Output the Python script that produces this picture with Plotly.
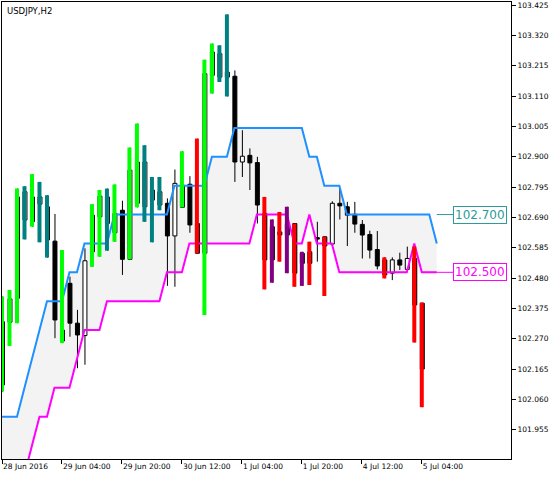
import plotly.graph_objects as go

# ---------------- data ----------------
title_text = "USDJPY,H2"

# H2 bars, index 0 = 28 Jun 2016 12:00
opens = [102.110, 102.327, 102.410, 102.681, 102.675, 102.736, 102.612, 102.608, 102.262, 102.462,
         102.324, 102.281, 102.571, 102.692, 102.669, 102.637, 102.715, 102.545, 102.739, 102.727,
         102.750, 102.733, 102.739, 102.626, 102.725, 102.805, 102.669, 102.566, 103.182, 103.176,
         103.176, 103.179, 102.882, 102.905, 102.880, 102.704, 102.658, 102.640, 102.669, 102.669,
         102.566, 102.571, 102.620, 102.623, 102.598, 102.739, 102.727, 102.701, 102.666, 102.631,
         102.579, 102.543, 102.497, 102.543, 102.510, 102.548, 102.393]
highs = [102.416, 102.439, 102.790, 102.798, 102.840, 102.813, 102.767, 102.702, 102.577, 102.485,
         102.370, 102.583, 102.736, 102.785, 102.790, 102.804, 102.748, 102.932, 103.015, 102.940,
         102.830, 102.830, 102.756, 102.856, 102.919, 102.833, 102.963, 103.236, 103.292, 103.286,
         103.393, 103.199, 102.992, 102.929, 102.900, 102.761, 102.683, 102.709, 102.727, 102.669,
         102.571, 102.606, 102.675, 102.623, 102.746, 102.790, 102.744, 102.744, 102.681, 102.644,
         102.643, 102.552, 102.552, 102.568, 102.589, 102.589, 102.395]
lows = [102.087, 102.245, 102.324, 102.614, 102.658, 102.604, 102.551, 102.272, 102.255, 102.277,
        102.168, 102.180, 102.519, 102.554, 102.575, 102.606, 102.491, 102.545, 102.725, 102.675,
        102.604, 102.715, 102.453, 102.450, 102.725, 102.637, 102.566, 102.352, 103.119, 103.159,
        103.109, 102.813, 102.830, 102.785, 102.669, 102.441, 102.464, 102.537, 102.497, 102.450,
        102.453, 102.456, 102.537, 102.418, 102.589, 102.683, 102.591, 102.637, 102.548, 102.548,
        102.510, 102.479, 102.473, 102.508, 102.508, 102.257, 102.033]
closes = [102.329, 102.408, 102.761, 102.779, 102.761, 102.761, 102.727, 102.335, 102.300, 102.324,
          102.283, 102.540, 102.698, 102.764, 102.761, 102.704, 102.545, 102.854, 102.882, 102.882,
          102.785, 102.779, 102.626, 102.808, 102.802, 102.664, 102.566, 103.188, 103.263, 103.257,
          103.193, 102.882, 102.902, 102.879, 102.733, 102.543, 102.543, 102.629, 102.629, 102.497,
          102.531, 102.531, 102.615, 102.591, 102.739, 102.730, 102.698, 102.667, 102.629, 102.577,
          102.522, 102.491, 102.543, 102.525, 102.548, 102.387, 102.165]
# colour class of the indicator bar drawn over each candle ("" = plain candle)
bar_colors = ["lime", "lime", "lime", "teal", "lime", "teal", "teal", "", "lime", "",
              "", "", "lime", "lime", "teal", "lime", "", "lime", "lime", "teal",
              "teal", "teal", "", "", "lime", "", "red", "lime", "lime", "teal",
              "teal", "", "", "", "", "red", "purple", "red", "purple", "red",
              "purple", "red", "", "red", "", "", "", "", "", "",
              "", "red", "", "", "", "red", "red"]

# channel lines (extend 2 bars beyond the last candle)
upper_band = ([102.00] * 3 + [102.10, 102.20, 102.30] + [102.40] * 3 + [102.50] * 2 +
              [102.60] * 4 + [102.70] * 8 + [102.80] * 5 + [102.90] * 3 + [103.00] * 10 +
              [102.90] * 2 + [102.80] * 3 + [102.70] * 12 + [102.60])
lower_band = ([101.80] * 4 + [101.90] + [102.00] * 2 + [102.10] * 3 + [102.20] + [102.30] * 3 +
              [102.40] * 8 + [102.50] * 3 + [102.60] * 9 + [102.70] * 5 + [102.60] * 2 +
              [102.70] + [102.60] * 3 + [102.50] * 10 + [102.60] + [102.50] * 3)

x_tick_pos = [0, 8, 16, 24, 32, 40, 48, 56]
x_tick_labels = ["28 Jun 2016", "29 Jun 04:00", "29 Jun 20:00", "30 Jun 12:00",
                 "1 Jul 04:00", "1 Jul 20:00", "4 Jul 12:00", "5 Jul 04:00"]
y_tick_labels = ["101.955", "102.060", "102.165", "102.270", "102.375", "102.480", "102.585",
                 "102.690", "102.795", "102.900", "103.005", "103.110", "103.215", "103.320",
                 "103.425"]
label_prices = [102.700, 102.500]
label_texts = ["102.700", "102.500"]

# ---------------- styles ----------------
COLORS = {"lime": "#00FF00", "teal": "#008080", "red": "#FF0000", "purple": "#800080"}
UPPER_COLOR = "#1E90FF"
LOWER_COLOR = "#FF00FF"
FILL_COLOR = "#F3F3F3"
LABEL_COLORS = ["#2E9A9A", "#FF00FF"]
FONT = "DejaVu Sans"
BODY_L, BODY_R, WICK_DX = -0.2, 0.33, 0.067

n = len(opens)
band_x = list(range(len(upper_band)))

fig = go.Figure()

# channel fill
fig.add_trace(go.Scatter(x=band_x, y=upper_band, mode="lines", line=dict(width=0),
                         hoverinfo="skip", showlegend=False))
fig.add_trace(go.Scatter(x=band_x, y=lower_band, mode="lines", line=dict(width=0),
                         fill="tonexty", fillcolor=FILL_COLOR, hoverinfo="skip", showlegend=False))

# wicks
wx, wy = [], []
for k in range(n):
    wx += [k + WICK_DX, k + WICK_DX, None]
    wy += [lows[k], highs[k], None]
fig.add_trace(go.Scatter(x=wx, y=wy, mode="lines", line=dict(color="#000000", width=1),
                         hoverinfo="skip", showlegend=False))

# bodies
for bull in (True, False):
    bx, by = [], []
    for k in range(n):
        if (closes[k] >= opens[k]) != bull:
            continue
        b, t = min(opens[k], closes[k]), max(opens[k], closes[k])
        bx += [k + BODY_L, k + BODY_R, k + BODY_R, k + BODY_L, k + BODY_L, None]
        by += [b, b, t, t, b, None]
    fig.add_trace(go.Scatter(x=bx, y=by, mode="lines", fill="toself",
                             fillcolor="#FFFFFF" if bull else "#000000",
                             line=dict(color="#000000", width=1),
                             hoverinfo="skip", showlegend=False))

# channel lines
fig.add_trace(go.Scatter(x=band_x, y=upper_band, mode="lines",
                         line=dict(color=UPPER_COLOR, width=2), hoverinfo="skip", showlegend=False))
fig.add_trace(go.Scatter(x=band_x, y=lower_band, mode="lines",
                         line=dict(color=LOWER_COLOR, width=2), hoverinfo="skip", showlegend=False))

# coloured indicator bars
for cname, ccol in COLORS.items():
    cx, cy = [], []
    for k in range(n):
        if bar_colors[k] == cname:
            cx += [k, k, None]
            cy += [lows[k], highs[k], None]
    fig.add_trace(go.Scatter(x=cx, y=cy, mode="lines", line=dict(color=ccol, width=4),
                             hoverinfo="skip", showlegend=False))

# price labels with leader lines
for price, txt, col in zip(label_prices, label_texts, LABEL_COLORS):
    fig.add_annotation(x=band_x[-1], y=price, xref="x", yref="y", text=txt,
                       showarrow=True, arrowhead=0, arrowwidth=1, arrowcolor=col,
                       ax=43, ay=0, standoff=0,
                       font=dict(family=FONT, size=12, color=col),
                       bordercolor=col, borderwidth=1, borderpad=1, bgcolor="#FFFFFF")

# chart title
fig.add_annotation(x=0, y=1, xref="paper", yref="paper", xanchor="left", yanchor="top",
                   xshift=3, yshift=-2, text=title_text, showarrow=False,
                   font=dict(family=FONT, size=8.5, color="#000000"))

fig.update_layout(
    width=560, height=478,
    margin=dict(l=2, r=49, t=2, b=19, pad=0, autoexpand=False),
    paper_bgcolor="#FFFFFF", plot_bgcolor="#FFFFFF",
    showlegend=False, hovermode=False,
    font=dict(family=FONT, size=7.5, color="#000000"),
)
fig.update_xaxes(range=[0, 67.9], tickmode="array", tickvals=x_tick_pos, ticktext=x_tick_labels,
                 ticks="outside", ticklen=4, tickcolor="#000000", tickwidth=1,
                 ticklabelposition="outside right",
                 showgrid=False, zeroline=False, showline=True, linecolor="#000000",
                 linewidth=1, mirror=True, fixedrange=True,
                 tickfont=dict(family=FONT, size=7.5, color="#000000"))
fig.update_yaxes(range=[101.8536, 103.436], side="right", tickmode="array",
                 tickvals=[float(t) for t in y_tick_labels], ticktext=y_tick_labels,
                 ticks="outside", ticklen=4, tickcolor="#000000", tickwidth=1,
                 showgrid=False, zeroline=False, showline=True, linecolor="#000000",
                 linewidth=1, mirror=True, fixedrange=True,
                 tickfont=dict(family=FONT, size=7.5, color="#000000"))

fig.write_html("out.html", config={"displayModeBar": False, "staticPlot": True},
               post_script="document.body.style.margin='0';document.body.style.overflow='hidden';")
